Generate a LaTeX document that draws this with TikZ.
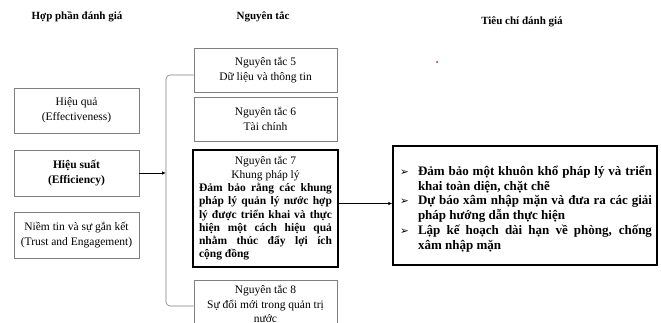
\documentclass[tikz,border=0pt]{standalone}
\usepackage{fontspec}
\setmainfont{Liberation Serif}
\newfontfamily\symfont{DejaVu Sans}
\usetikzlibrary{arrows.meta,calc}
\definecolor{boxgray}{HTML}{7F7F7F}
\newcommand\mybul{\makebox[18pt][l]{\symfont\fontsize{10.5}{10.5}\selectfont ➢}}
\newcommand\myind{\makebox[18pt]{}}
\begin{document}
\begin{tikzpicture}[x=1pt,y=-1pt,
  thinbox/.style={draw=boxgray,line width=0.6pt,align=center,inner sep=2pt,font=\fontsize{11.5}{15}\selectfont},
  thickbox/.style={draw=black,line width=1.4pt,inner sep=2pt},
  header/.style={font=\fontsize{11}{12}\selectfont\bfseries},
  conn/.style={line width=0.9pt,-{Latex[length=4pt,width=3.5pt]}}]
\useasboundingbox (0,0) rectangle (661,323);
\fill[white] (0,0) rectangle (661,323);
% headers
\node[header] (h1) at (77,17) {Hợp phần đánh giá};
\node[header] (h2) at (263,17) {Nguyên tắc};
\node[header] (h3) at (522,22) {Tiêu chí đánh giá};
% left boxes
\node[thinbox,minimum width=125pt,minimum height=45pt] (hq) at (76.5,110.5) {Hiệu quả\\(Effectiveness)};
\node[thinbox,minimum width=125pt,minimum height=46pt,font=\fontsize{11.5}{15}\selectfont\bfseries] (hs) at (76.5,173) {Hiệu suất\\(Efficiency)};
\node[thinbox,minimum width=125pt,minimum height=46pt] (nt) at (76.5,235) {Niềm tin và sự gắn kết\\(Trust and Engagement)};
% principle boxes
\node[thinbox,minimum width=143pt,minimum height=44pt] (p5) at (265.5,70) {Nguyên tắc 5\\Dữ liệu và thông tin};
\node[thinbox,minimum width=143pt,minimum height=44pt] (p6) at (265.5,119) {Nguyên tắc 6\\Tài chính};
\node[thickbox,minimum width=145pt,minimum height=117pt,align=center,inner xsep=6pt,
      font=\fontsize{11.5}{13.3}\selectfont] (p7) at (265.5,208.5)
  {Nguyên tắc 7\\Khung pháp lý\\
   \bfseries\makebox[133pt][s]{Đảm bảo rằng các khung}\\
   \bfseries\makebox[133pt][s]{pháp lý quản lý nước hợp}\\
   \bfseries\makebox[133pt][s]{lý được triển khai và thực}\\
   \bfseries\makebox[133pt][s]{hiện một cách hiệu quả}\\
   \bfseries\makebox[133pt][s]{nhằm thúc đẩy lợi ích}\\
   \bfseries\makebox[133pt][l]{cộng đồng}};
\node[thinbox,minimum width=143pt,minimum height=48pt,font=\fontsize{11.5}{14.3}\selectfont] (p8) at (265.5,304) {Nguyên tắc 8\\Sự đổi mới trong quản trị\\nước};
% criteria box
\node[thickbox,minimum width=264pt,minimum height=119pt] (tc) at (525,205.5) {};
\node[align=left,inner sep=0pt,font=\fontsize{13}{14.8}\selectfont\bfseries] (tct) at (526,209)
  {\mybul\makebox[234pt][s]{Đảm bảo một khuôn khổ pháp lý và triển}\\
   \myind khai toàn diện, chặt chẽ\\
   \mybul\makebox[234pt][s]{Dự báo xâm nhập mặn và đưa ra các giải}\\
   \myind pháp hướng dẫn thực hiện\\
   \mybul\makebox[234pt][s]{Lập kế hoạch dài hạn về phòng, chống}\\
   \myind xâm nhập mặn};
% bracket
\coordinate (bt) at (166,75);
\coordinate (bb) at (166,306);
\draw[boxgray,line width=0.6pt,rounded corners=4pt] ([yshift=-5pt]p5.west) -- (bt) -- (bb) -- ([yshift=-2pt]p8.west);
% arrows
\draw[conn] (hs.east) -- (hs.east -| bt);
\draw[conn] ([yshift=5pt]p7.east) -- ([yshift=5pt]p7.east -| tc.west);
% red dot
\fill[red!85!black] (437,62) circle (1pt);
\end{tikzpicture}
\end{document}
